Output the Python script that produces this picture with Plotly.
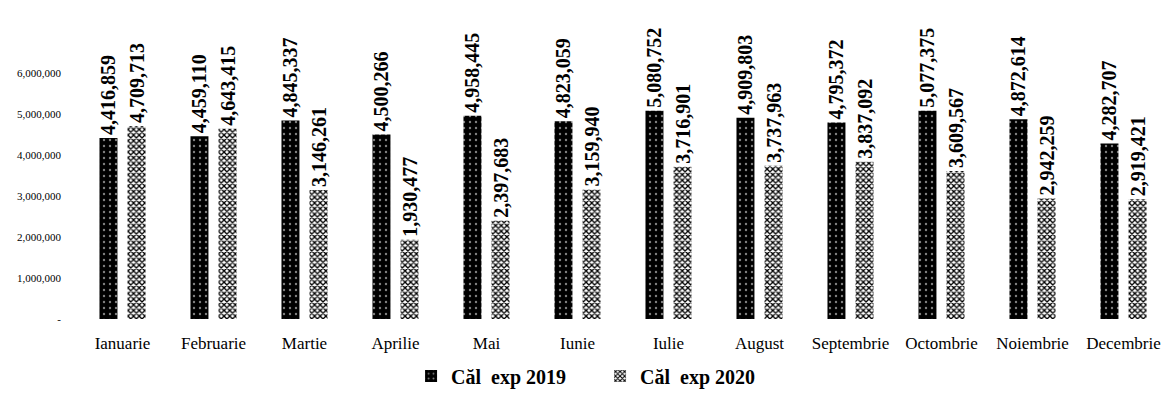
import plotly.graph_objects as go

months = ["Ianuarie", "Februarie", "Martie", "Aprilie", "Mai", "Iunie", "Iulie",
          "August", "Septembrie", "Octombrie", "Noiembrie", "Decembrie"]
exp_2019 = [4416859, 4459110, 4845337, 4500266, 4958445, 4823059, 5080752,
            4909803, 4795372, 5077375, 4872614, 4282707]
exp_2020 = [4709713, 4643415, 3146261, 1930477, 2397683, 3159940, 3716901,
            3737963, 3837092, 3609567, 2942259, 2919421]
series_names = ["Căl  exp 2019", "Căl  exp 2020"]
y_tickvals = [0, 1000000, 2000000, 3000000, 4000000, 5000000, 6000000]
y_ticktext = ["-", "1,000,000", "2,000,000", "3,000,000", "4,000,000", "5,000,000", "6,000,000"]

serif = "Liberation Serif"

def fmt(v):
    return f"{v:,}"

fig = go.Figure()
fig.add_trace(go.Bar(
    x=months, y=exp_2019, name=series_names[0],
    text=[fmt(v) for v in exp_2019], textposition="outside", textangle=-90,
    constraintext="none", cliponaxis=False,
    textfont=dict(family=serif, size=20, color="#000000", weight="bold"),
    marker=dict(color="black", line=dict(width=0),
                pattern=dict(shape=".", fgcolor="white", bgcolor="black",
                             size=6, solidity=0.12, fillmode="overlay")),
))
fig.add_trace(go.Bar(
    x=months, y=exp_2020, name=series_names[1],
    text=[fmt(v) for v in exp_2020], textposition="outside", textangle=-90,
    constraintext="none", cliponaxis=False,
    textfont=dict(family=serif, size=20, color="#000000", weight="bold"),
    marker=dict(color="white", line=dict(width=0),
                pattern=dict(shape="x", fgcolor="black", bgcolor="white",
                             size=4, solidity=0.55, fillmode="replace")),
))

fig.update_layout(
    width=1169, height=396,
    margin=dict(l=77, r=0, t=5, b=77),
    paper_bgcolor="white", plot_bgcolor="white",
    barmode="group", bargap=0.383, bargroupgap=0.36,
    font=dict(family=serif, color="#000000"),
    showlegend=True,
    legend=dict(orientation="h", x=0.479, xanchor="center", y=-0.244, yanchor="bottom",
                font=dict(family=serif, size=20, color="#000000", weight="bold"),
                itemwidth=30, entrywidth=144, entrywidthmode="pixels",
                traceorder="normal"),
)
fig.update_xaxes(
    range=[-0.5, 11.5], showgrid=False, showline=False, zeroline=False,
    ticks="", tickfont=dict(family=serif, size=17, color="#000000"),
    ticklabelstandoff=12,
)
fig.update_yaxes(
    range=[0, 7660000], showgrid=False, showline=False, zeroline=False,
    tickvals=y_tickvals, ticktext=y_ticktext, ticks="",
    tickfont=dict(family=serif, size=11, color="#000000"),
    ticklabelstandoff=15,
)

fig.write_html("out.html", config={"displayModeBar": False},
               post_script="document.body.style.margin='0px';document.body.style.overflow='hidden';")
